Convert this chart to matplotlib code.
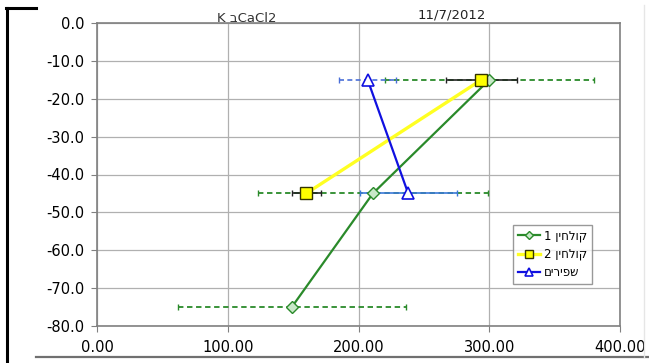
import matplotlib
matplotlib.use("Agg")
import matplotlib.pyplot as plt
from matplotlib.lines import Line2D
from matplotlib.ticker import FormatStrFormatter

plt.rcParams['font.family'] = ['DejaVu Sans']


def heb(s):
    # matplotlib has no bidi support: reverse to get visual order
    return s[::-1]


# קולחין 1
green_x = [149, 211, 300]
green_y = [-75, -45, -15]
green_err = [87, 88, 80]

# קולחין 2
yellow_x = [160, 294]
yellow_y = [-45, -15]
yellow_err = [11, 27]

# שפירים
blue_x = [207, 238]
blue_y = [-15, -45]
blue_err = [22, 37]

labels = ["קולחין 1", "קולחין 2", "שפירים"]
x_ticks = [0, 100, 200, 300, 400]
y_ticks = [0, -10, -20, -30, -40, -50, -60, -70, -80]

W, H = 649, 363
fig = plt.figure(figsize=(W / 100, H / 100), dpi=100)
ax = fig.add_axes([97 / W, 1 - 326 / H, 523 / W, 303 / H])

# error bars
eb = ax.errorbar(green_x, green_y, xerr=green_err, fmt='none', ecolor='#2a8a2a',
                 elinewidth=1.3, capsize=2, capthick=1, zorder=2)
eb[2][0].set_linestyle((0, (3, 2)))
ax.errorbar(yellow_x, yellow_y, xerr=yellow_err, fmt='none', ecolor='#222222',
            elinewidth=1.2, capsize=2, capthick=1, zorder=3)
eb = ax.errorbar(blue_x[:1], blue_y[:1], xerr=blue_err[:1], fmt='none', ecolor='#4a6fd8',
                 elinewidth=1.2, capsize=2, capthick=1, zorder=3)
eb[2][0].set_linestyle((0, (3, 2)))
ax.errorbar(blue_x[1:], blue_y[1:], xerr=blue_err[1:], fmt='none', ecolor='#3a78d8',
            elinewidth=1.2, capsize=2, capthick=1, zorder=3)

# series
l1, = ax.plot(green_x, green_y, color='#2a8a2a', lw=1.6, marker='D', ms=6,
              mfc='#c8e8c8', mec='#2a8a2a', mew=1, zorder=4)
l2, = ax.plot(yellow_x, yellow_y, color='#ffff22', lw=2.4, marker='s', ms=9,
              mfc='#ffff00', mec='#333300', mew=1, zorder=5)
l3, = ax.plot(blue_x, blue_y, color='#1010e0', lw=1.6, marker='^', ms=8,
              mfc='white', mec='#1010e0', mew=1.2, zorder=6)

ax.set_xlim(0, 400)
ax.set_ylim(-80, 0)
ax.set_xticks(x_ticks)
ax.set_yticks(y_ticks)
ax.xaxis.set_major_formatter(FormatStrFormatter('%.2f'))
ax.yaxis.set_major_formatter(FormatStrFormatter('%.1f'))
ax.tick_params(axis='both', labelsize=10.5, color='#808080', length=4)
ax.tick_params(axis='x', pad=6)
ax.tick_params(axis='y', pad=5)
ax.grid(True, color='#b0b0b0', lw=0.9)
ax.set_axisbelow(True)
for sp in ax.spines.values():
    sp.set_color('#808080')
    sp.set_linewidth(1.2)

leg = ax.legend([l1, l2, l3], [heb(t) for t in labels], loc='lower right',
                bbox_to_anchor=(0.946, 0.139), borderaxespad=0, fontsize=8.5,
                frameon=True, fancybox=False, handlelength=1.9, handletextpad=0.3,
                labelspacing=0.45, borderpad=0.4, markerscale=0.7)
leg.get_frame().set_edgecolor('#808080')
leg.get_frame().set_linewidth(1.0)

fig.text(247 / W, 1 - 18 / H, "K בCaCl2", ha='center', va='center', fontsize=9.5,
         color='#333333')
fig.text(452 / W, 1 - 15 / H, "11/7/2012", ha='center', va='center', fontsize=9.5,
         color='#222222')

# screenshot frame
fig.add_artist(Line2D([7 / W, 7 / W], [0, 1 - 8 / H], color='black', lw=2.2,
                      transform=fig.transFigure))
fig.add_artist(Line2D([6 / W, 36 / W], [1 - 8 / H, 1 - 8 / H], color='black', lw=2.2,
                      transform=fig.transFigure))
fig.add_artist(Line2D([36 / W, 1], [1 - 357 / H, 1 - 357 / H], color='#707070', lw=1.6,
                      transform=fig.transFigure))
fig.add_artist(Line2D([644 / W, 644 / W], [1 - 357 / H, 1 - 5 / H], color='#e6e6e6', lw=1,
                      transform=fig.transFigure))

fig.savefig("out.png", dpi=100)
